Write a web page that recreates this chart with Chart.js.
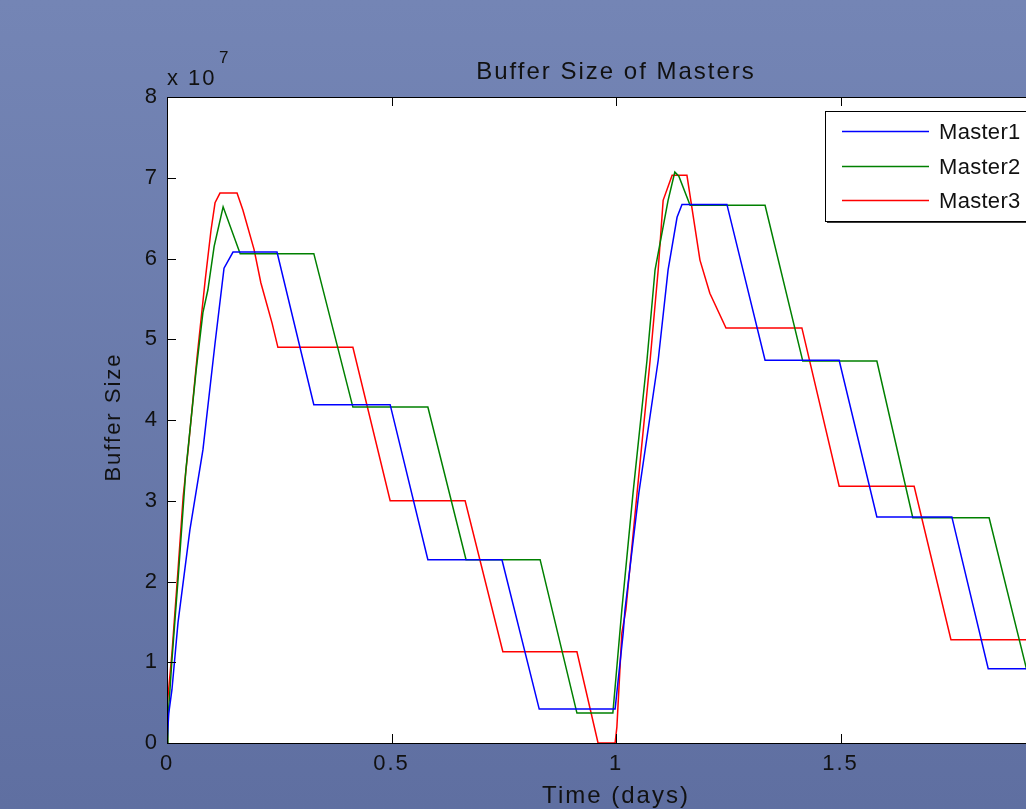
<!DOCTYPE html>
<html>
<head>
<meta charset="utf-8">
<script src="https://cdn.jsdelivr.net/npm/chart.js@4.4.0/dist/chart.umd.min.js"></script>
<style>
  html, body { margin: 0; padding: 0; width: 1026px; height: 809px; overflow: hidden; }
  body { background: linear-gradient(#7485b5, #5f6fa1); }
  #wrap { position: absolute; left: 0; top: 0; width: 1100px; height: 809px; }
</style>
</head>
<body>
<div id="wrap"><canvas id="bufferChart" width="1100" height="809"></canvas></div>
<script>
// values, buffer size in units of 1e7
const seriesNames = ['Master1', 'Master2', 'Master3'];
const seriesColors = ['#0000ff', '#008000', '#ff0000'];
const xTicks = [0, 0.5, 1, 1.5, 2];
const yTicks = [0, 1, 2, 3, 4, 5, 6, 7, 8];

const m1Time = [0, 0.004, 0.011, 0.0245, 0.051, 0.080, 0.107, 0.127, 0.147, 0.245, 0.327, 0.497, 0.581, 0.746, 0.829, 0.998,
  1.016, 1.020, 1.051, 1.094, 1.116, 1.136, 1.147, 1.247, 1.332, 1.497, 1.581, 1.748, 1.829, 2.0];
const m1Size = [0, 0.37, 0.66, 1.49, 2.64, 3.63, 4.95, 5.88, 6.08, 6.08, 4.19, 4.19, 2.27, 2.27, 0.42, 0.42,
  1.36, 1.65, 3.10, 4.74, 5.86, 6.51, 6.67, 6.67, 4.74, 4.74, 2.80, 2.80, 0.92, 0.92];

const m2Time = [0, 0.002, 0.011, 0.0245, 0.042, 0.065, 0.080, 0.091, 0.105, 0.125, 0.163, 0.327, 0.414, 0.581, 0.666, 0.831,
  0.913, 0.993, 1.013, 1.038, 1.069, 1.087, 1.116, 1.131, 1.140, 1.165, 1.332, 1.416, 1.581, 1.661, 1.831, 1.915, 2.0];
const m2Size = [0, 0.28, 1.03, 2.02, 3.38, 4.62, 5.33, 5.61, 6.15, 6.64, 6.06, 6.06, 4.16, 4.16, 2.27, 2.27,
  0.37, 0.37, 1.65, 3.10, 4.74, 5.86, 6.72, 7.07, 7.02, 6.66, 6.66, 4.73, 4.73, 2.79, 2.79, 0.90, 0.90];

const m3Time = [0, 0.001, 0.011, 0.0245, 0.036, 0.047, 0.067, 0.085, 0.098, 0.107, 0.118, 0.156, 0.169, 0.194, 0.209, 0.234,
  0.247, 0.414, 0.497, 0.664, 0.748, 0.913, 0.960, 0.998, 1.002, 1.013, 1.022, 1.047, 1.076, 1.094, 1.105, 1.125, 1.158,
  1.187, 1.209, 1.245, 1.414, 1.497, 1.664, 1.746, 2.0];
const m3Size = [0, 0.50, 1.11, 2.14, 3.05, 3.63, 4.78, 5.73, 6.35, 6.69, 6.81, 6.81, 6.60, 6.11, 5.70, 5.20,
  4.90, 4.90, 3.00, 3.00, 1.13, 1.13, 0, 0, 0.20, 1.36, 1.65, 3.10, 4.74, 5.86, 6.72, 7.03, 7.03,
  5.98, 5.57, 5.14, 5.14, 3.18, 3.18, 1.28, 1.28];

const allTimes = [m1Time, m2Time, m3Time];
const allSizes = [m1Size, m2Size, m3Size];

const FONT = '"Liberation Sans", Arial, sans-serif';
const INK = '#111111';

const matlabDecor = {
  id: 'matlabDecor',
  beforeDraw(chart) {
    chart.ctx.letterSpacing = '2px';
  },
  beforeDatasetsDraw(chart) {
    // white axes background
    const a = chart.chartArea;
    chart.ctx.save();
    chart.ctx.fillStyle = '#ffffff';
    chart.ctx.fillRect(a.left, a.top, a.right - a.left, a.bottom - a.top);
    chart.ctx.restore();
  },
  afterDraw(chart) {
    const ctx = chart.ctx;
    const a = chart.chartArea;
    const xs = chart.scales.x;
    const ys = chart.scales.y;
    ctx.save();
    ctx.strokeStyle = '#000';
    ctx.lineWidth = 1;
    ctx.strokeRect(Math.round(a.left) + 0.5, Math.round(a.top) + 0.5, Math.round(a.right - a.left), Math.round(a.bottom - a.top));

    // inward ticks, like matlab
    ctx.beginPath();
    yTicks.forEach(v => {
      const py = Math.round(ys.getPixelForValue(v)) + 0.5;
      ctx.moveTo(a.left, py); ctx.lineTo(a.left + 9, py);
      ctx.moveTo(a.right, py); ctx.lineTo(a.right - 9, py);
    });
    xTicks.forEach(v => {
      const px = Math.round(xs.getPixelForValue(v)) + 0.5;
      ctx.moveTo(px, a.bottom); ctx.lineTo(px, a.bottom - 9);
      ctx.moveTo(px, a.top); ctx.lineTo(px, a.top + 9);
    });
    ctx.stroke();

    ctx.fillStyle = INK;
    ctx.letterSpacing = '2px';

    // title
    ctx.font = '24px ' + FONT;
    ctx.textAlign = 'center';
    ctx.textBaseline = 'alphabetic';
    ctx.fillText('Buffer Size of Masters', (a.left + a.right) / 2, 79);

    // axis titles
    ctx.font = '24px ' + FONT;
    ctx.textBaseline = 'top';
    ctx.fillText('Time (days)', (a.left + a.right) / 2, 784);
    ctx.save();
    ctx.translate(114, 417);
    ctx.rotate(-Math.PI / 2);
    ctx.textBaseline = 'middle';
    ctx.font = '22px ' + FONT;
    ctx.fillText('Buffer Size', 0, 0);
    ctx.restore();

    // exponent label
    ctx.textAlign = 'left';
    ctx.textBaseline = 'alphabetic';
    ctx.font = '22px ' + FONT;
    ctx.fillText('x 10', a.left, 85);
    ctx.font = '17px ' + FONT;
    ctx.fillText('7', a.left + 52, 63);

    // legend box
    const lx = 825, ly = 111, lw = 260, lh = 110;
    ctx.fillStyle = '#3a3a3a';
    ctx.fillRect(lx + 2, ly + 2, lw, lh);
    ctx.fillStyle = '#ffffff';
    ctx.fillRect(lx, ly, lw, lh);
    ctx.strokeStyle = '#000';
    ctx.strokeRect(lx + 0.5, ly + 0.5, lw, lh);
    ctx.font = '22px ' + FONT;
    ctx.letterSpacing = '0.3px';
    ctx.textBaseline = 'middle';
    chart.data.datasets.forEach((ds, i) => {
      const yy = [131.5, 166.5, 200.5][i];
      ctx.strokeStyle = ds.borderColor;
      ctx.lineWidth = 1.3;
      ctx.beginPath();
      ctx.moveTo(842, yy); ctx.lineTo(929, yy);
      ctx.stroke();
      ctx.fillStyle = INK;
      ctx.fillText(ds.label, 939, yy + 1);
    });
    ctx.restore();
    ctx.letterSpacing = '0px';
  }
};

const ctx = document.getElementById('bufferChart').getContext('2d');
const chart = new Chart(ctx, {
  type: 'line',
  data: {
    datasets: seriesNames.map((name, i) => ({
      label: name,
      data: allTimes[i].map((t, k) => ({ x: t, y: allSizes[i][k] })),
      borderColor: seriesColors[i],
      borderWidth: 1.5,
      pointRadius: 0,
      tension: 0,
      fill: false
    }))
  },
  options: {
    responsive: false,
    animation: false,
    devicePixelRatio: 1,
    layout: { padding: { left: 0, top: 97, right: 35, bottom: 0 } },
    plugins: {
      legend: { display: false },
      title: { display: false },
      tooltip: { enabled: false }
    },
    scales: {
      x: {
        type: 'linear',
        min: 0,
        max: 2,
        grid: { display: false, drawTicks: false },
        border: { display: false },
        afterFit: s => { s.height = 66; },
        afterBuildTicks: s => { s.ticks = xTicks.map(v => ({ value: v })); },
        ticks: {
          padding: 8,
          maxRotation: 0,
          autoSkip: false,
          color: INK,
          font: { family: FONT, size: 22 },
          callback: v => String(v)
        }
      },
      y: {
        min: 0,
        max: 8,
        grid: { display: false, drawTicks: false },
        border: { display: false },
        afterFit: s => { s.width = 167; },
        afterBuildTicks: s => { s.ticks = yTicks.map(v => ({ value: v })); },
        ticks: {
          padding: 8,
          color: INK,
          font: { family: FONT, size: 22 },
          callback: v => String(v)
        }
      }
    }
  },
  plugins: [matlabDecor]
});
</script>
</body>
</html>
